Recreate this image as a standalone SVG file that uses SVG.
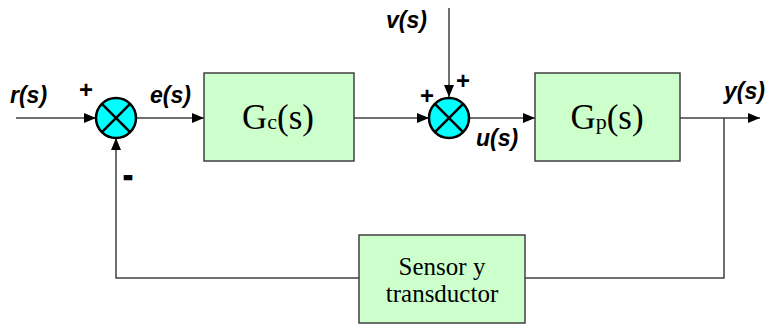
<svg xmlns="http://www.w3.org/2000/svg" width="769" height="324" viewBox="0 0 769 324">
<style>
.box{fill:#ccffcc;stroke:#404040;stroke-width:1.5}
.sum{fill:#00ffff;stroke:#000;stroke-width:2.5}
.x{stroke:#000;stroke-width:2.5}
.ln{fill:none;stroke:#404040;stroke-width:1.5}
.lbl{font-family:"Liberation Sans",Arial,sans-serif;font-weight:bold;font-style:italic;font-size:23px;fill:#000}
.sg{font-family:"Liberation Sans",Arial,sans-serif;font-weight:bold;font-size:24px;fill:#000}
.tf{font-family:"Liberation Serif","Times New Roman",serif;fill:#000}
</style>
<defs>
<marker id="ah" markerWidth="12" markerHeight="10" refX="12" refY="5" orient="auto" markerUnits="userSpaceOnUse">
<path d="M0,0 L12,5 L0,10 Z" fill="#000"/>
</marker>
</defs>
<g id="connectors">
<line class="ln" x1="16" y1="118" x2="96" y2="118" marker-end="url(#ah)"/>
<line class="ln" x1="136" y1="118" x2="204" y2="118" marker-end="url(#ah)"/>
<line class="ln" x1="354" y1="118" x2="429" y2="118" marker-end="url(#ah)"/>
<line class="ln" x1="449" y1="8" x2="449" y2="97" marker-end="url(#ah)"/>
<line class="ln" x1="469" y1="118" x2="535" y2="118" marker-end="url(#ah)"/>
<line class="ln" x1="680" y1="118" x2="760" y2="118" marker-end="url(#ah)"/>
<polyline class="ln" points="724,118 724,278 525,278"/>
<polyline class="ln" points="359,278 116,278 116,138" marker-end="url(#ah)"/>
</g>
<g id="sum1">
<circle class="sum" cx="116" cy="118" r="20"/>
<line class="x" x1="101.9" y1="103.9" x2="130.1" y2="132.1"/>
<line class="x" x1="130.1" y1="103.9" x2="101.9" y2="132.1"/>
</g>
<g id="sum2">
<circle class="sum" cx="449" cy="118" r="20"/>
<line class="x" x1="434.9" y1="103.9" x2="463.1" y2="132.1"/>
<line class="x" x1="463.1" y1="103.9" x2="434.9" y2="132.1"/>
</g>
<g id="gc">
<rect class="box" x="204" y="73" width="150" height="88"/>
<text class="tf" x="278" y="129" text-anchor="middle" font-size="35">G<tspan font-size="22">c</tspan>(s)</text>
</g>
<g id="gp">
<rect class="box" x="535" y="73" width="145" height="88"/>
<text class="tf" x="607" y="129" text-anchor="middle" font-size="35">G<tspan font-size="22">p</tspan>(s)</text>
</g>
<g id="sensor">
<rect class="box" x="359" y="235" width="166" height="88"/>
<text class="tf" x="442" y="275" text-anchor="middle" font-size="25">Sensor y</text>
<text class="tf" x="442" y="302" text-anchor="middle" font-size="25">transductor</text>
</g>
<g id="labels">
<text class="lbl" x="10" y="103">r(s)</text>
<text class="lbl" x="150" y="103">e(s)</text>
<text class="lbl" x="386" y="28">v(s)</text>
<text class="lbl" x="476" y="146">u(s)</text>
<text class="lbl" x="724" y="99">y(s)</text>
<text class="sg" x="79" y="98">+</text>
<text class="sg" x="124" y="184" font-size="40" stroke="#000" stroke-width="2.5">-</text>
<text class="sg" x="420" y="104">+</text>
<text class="sg" x="456" y="89">+</text>
</g>
</svg>
